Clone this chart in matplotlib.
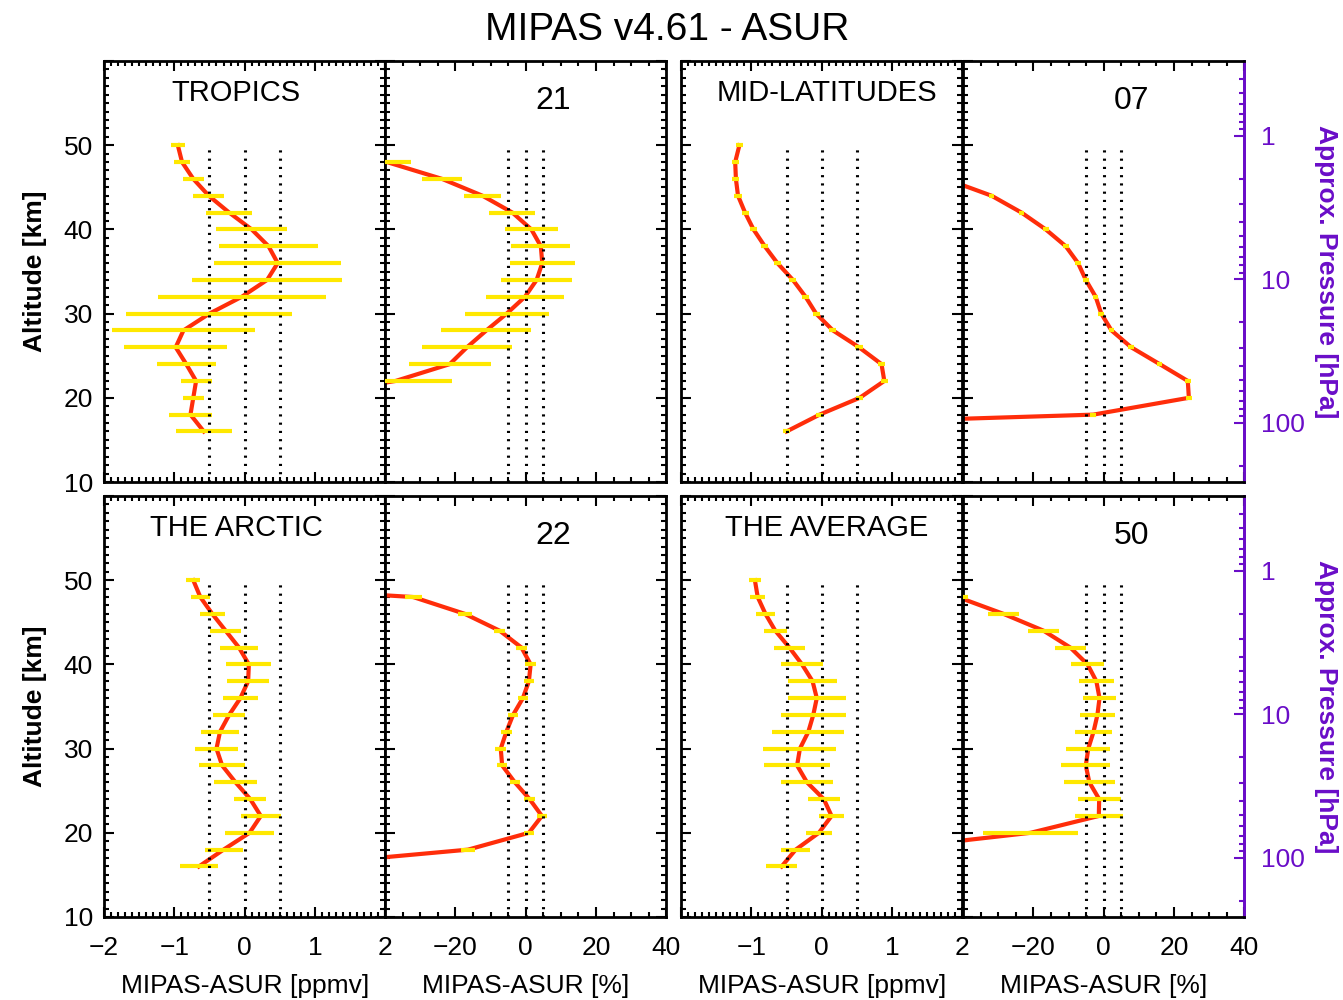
import numpy as np
import matplotlib
matplotlib.use('Agg')
from matplotlib import pyplot as plt
from matplotlib.ticker import MultipleLocator, FixedLocator, FuncFormatter

plt.rcParams['font.family'] = ['Liberation Sans', 'DejaVu Sans']

# altitude grid of the comparison [km]
alt = [16, 18, 20, 22, 24, 26, 28, 30, 32, 34, 36, 38, 40, 42, 44, 46, 48, 50]
nan = np.nan

# absolute differences MIPAS-ASUR [ppmv]
trop_ppmv = [-0.58, -0.77, -0.73, -0.69, -0.83, -0.98, -0.87, -0.50, -0.04, 0.32,
             0.47, 0.34, 0.10, -0.22, -0.51, -0.73, -0.89, -0.95]
trop_ppmv_err = [0.40, 0.30, 0.15, 0.22, 0.42, 0.73, 1.02, 1.18, 1.19, 1.07,
                 0.90, 0.70, 0.50, 0.33, 0.22, 0.15, 0.12, 0.10]
midlat_ppmv = [-0.50, -0.03, 0.54, 0.89, 0.85, 0.53, 0.16, -0.08, -0.23, -0.41,
               -0.63, -0.81, -0.97, -1.09, -1.19, -1.22, -1.23, -1.17]
midlat_ppmv_err = [0.05] * 18
arctic_ppmv = [-0.65, -0.30, 0.07, 0.23, 0.08, -0.13, -0.32, -0.40, -0.35, -0.22,
               -0.06, 0.05, 0.06, -0.08, -0.27, -0.46, -0.63, -0.73]
arctic_ppmv_err = [0.27, 0.27, 0.35, 0.28, 0.23, 0.30, 0.33, 0.31, 0.265, 0.225,
                   0.25, 0.30, 0.32, 0.27, 0.225, 0.18, 0.135, 0.10]
avg_ppmv = [-0.57, -0.37, -0.04, 0.14, 0.03, -0.21, -0.35, -0.31, -0.19, -0.12,
            -0.07, -0.13, -0.28, -0.46, -0.66, -0.80, -0.91, -0.95]
avg_ppmv_err = [0.22, 0.21, 0.19, 0.175, 0.23, 0.37, 0.47, 0.52, 0.51, 0.46,
                0.41, 0.35, 0.30, 0.22, 0.165, 0.135, 0.11, 0.08]

# relative differences MIPAS-ASUR [%]
trop_pct = [nan, nan, -67, -37, -21.6, -16.7, -11.2, -5.4, -0.2, 3.1,
            4.7, 4.3, 1.6, -3.8, -12.3, -23.8, -39.5, -60]
trop_pct_err = [nan, nan, nan, 16, 11.6, 12.7, 12.8, 12.0, 11.0, 10.1,
                9.3, 8.4, 7.6, 6.5, 5.3, 5.6, 7, nan]
midlat_pct = [-155, -3.0, 24.2, 23.9, 15.9, 7.8, 2.2, -0.7, -2.3, -5.1,
              -7.3, -10.8, -16.5, -23.4, -31.9, -45, nan, nan]
midlat_pct_err = [nan, 0.8, 0.8, 0.8, 0.8, 0.8, 0.8, 0.8, 0.8, 0.8,
                  0.8, 0.8, 0.8, 0.8, 0.8, nan, nan, nan]
arctic_pct = [-69, -16.4, 0.9, 4.6, 1.1, -3.1, -6.7, -7.1, -5.5, -3.6,
              -0.8, 0.9, 1.4, -1.2, -7.4, -17.3, -32.0, -110]
arctic_pct_err = [nan, 2, 1.5, 1.5, 1.5, 1.5, 1.5, 1.5, 1.5, 1.5,
                  1.5, 1.5, 1.5, 1.5, 1.5, 2, 2.4, nan]
avg_pct = [nan, -63, -20.8, -1.4, -1.3, -4.1, -5.1, -4.4, -2.9, -1.8,
           -1.2, -2.1, -4.6, -9.5, -17.1, -28.5, -41.5, nan]
avg_pct_err = [nan, nan, 13.5, 6.9, 6.1, 7.2, 7.0, 6.3, 5.3, 4.9,
               4.6, 5.0, 4.7, 4.5, 4.35, 4.4, 3, nan]

region_names = ['TROPICS', 'MID-LATITUDES', 'THE ARCTIC', 'THE AVERAGE']
n_coinc = ['21', '07', '22', '50']
pressure_ticks = [1, 10, 100]

RED = '#ff2d0a'
YEL = '#ffe800'
PURPLE = '#6a0dc8'
FS = 19
LW = 3.0
DOTS = (0, (0.7, 2.0))

def alt2p(z):
    return 1000.0 * np.exp(-np.asarray(z, dtype=float) / 7.4)

def p2alt(p):
    return -7.4 * np.log(np.asarray(p, dtype=float) / 1000.0)

fig = plt.figure(figsize=(13.43, 10), dpi=100)

lefts = [0.0774, 0.2867, 0.5071, 0.7171]
bottoms = [0.518, 0.083]
w, h = 0.2095, 0.421

panels = [
    (0, 0, trop_ppmv, trop_ppmv_err, trop_pct, trop_pct_err),
    (0, 2, midlat_ppmv, midlat_ppmv_err, midlat_pct, midlat_pct_err),
    (1, 0, arctic_ppmv, arctic_ppmv_err, arctic_pct, arctic_pct_err),
    (1, 2, avg_ppmv, avg_ppmv_err, avg_pct, avg_pct_err),
]

def style(ax, major, minor):
    ax.set_ylim(10, 60)
    ax.xaxis.set_major_locator(MultipleLocator(major))
    ax.xaxis.set_minor_locator(MultipleLocator(minor))
    ax.yaxis.set_major_locator(MultipleLocator(10))
    ax.yaxis.set_minor_locator(MultipleLocator(1))
    ax.tick_params(which='both', direction='in', top=True, right=True,
                   labelsize=FS, width=1.5)
    ax.tick_params(which='major', length=7)
    ax.tick_params(which='minor', length=3.5)
    ax.tick_params(axis='x', pad=14)
    ax.tick_params(axis='y', pad=8)
    for s in ax.spines.values():
        s.set_linewidth(2)

for k, (row, col, vppmv, eppmv, vpct, epct) in enumerate(panels):
    # absolute panel
    ax1 = fig.add_axes([lefts[col], bottoms[row], w, h])
    ax1.plot(vppmv, alt, color=RED, lw=LW, zorder=2)
    ax1.errorbar(vppmv, alt, xerr=eppmv, fmt='none', ecolor=YEL, elinewidth=LW,
                 capsize=0, zorder=3)
    for xv in [-0.5, 0, 0.5]:
        ax1.plot([xv, xv], [10, 50], color='k', ls=DOTS, lw=2.2, zorder=4)
    ax1.set_xlim(-2, 2)
    style(ax1, 1, 0.1)
    ax1.text(0.47 if col == 0 else 0.518, 0.925, region_names[k], transform=ax1.transAxes,
             ha='center', va='center', fontsize=21)

    # relative panel
    ax2 = fig.add_axes([lefts[col + 1], bottoms[row], w, h])
    ax2.plot(vpct, alt, color=RED, lw=LW, zorder=2)
    ax2.errorbar(vpct, alt, xerr=epct, fmt='none', ecolor=YEL, elinewidth=LW,
                 capsize=0, zorder=3)
    for xv in [-5, 0, 5]:
        ax2.plot([xv, xv], [10, 50], color='k', ls=DOTS, lw=2.2, zorder=4)
    ax2.set_xlim(-40, 40)
    style(ax2, 20, 5)
    ax2.text(0.597, 0.905, n_coinc[k], transform=ax2.transAxes,
             ha='center', va='center', fontsize=23)
    ax2.tick_params(labelleft=False)

    if col == 0:
        ax1.set_ylabel('Altitude [km]', fontsize=FS, fontweight='bold', labelpad=12)
    else:
        ax1.tick_params(labelleft=False)
        ax2.spines['right'].set_color(PURPLE)
        ax2.tick_params(right=False, which='both')
        sec = ax2.secondary_yaxis('right', functions=(alt2p, p2alt))
        sec.yaxis.set_major_locator(FixedLocator(pressure_ticks))
        minors = [m * d for d in [0.1, 1, 10, 100] for m in range(2, 10)]
        sec.yaxis.set_minor_locator(FixedLocator(minors))
        sec.yaxis.set_major_formatter(FuncFormatter(lambda v, p: '%g' % v))
        sec.yaxis.set_minor_formatter(FuncFormatter(lambda v, p: ''))
        sec.tick_params(which='both', direction='in', colors=PURPLE, labelsize=FS, width=1.5)
        sec.tick_params(which='major', length=7, pad=12)
        sec.tick_params(which='minor', length=3.5)
        sec.spines['right'].set_color(PURPLE)
        sec.spines['right'].set_linewidth(2)
        sec.set_ylabel('Approx. Pressure [hPa]', color=PURPLE, fontsize=FS,
                       fontweight='bold', rotation=270, labelpad=24)

    if row == 0:
        ax1.tick_params(labelbottom=False)
        ax2.tick_params(labelbottom=False)
    else:
        ax1.set_xlabel('MIPAS-ASUR [ppmv]', fontsize=FS, labelpad=10)
        ax2.set_xlabel('MIPAS-ASUR [%]', fontsize=FS, labelpad=10)
        if col == 2:
            ax1.xaxis.set_major_formatter(
                FuncFormatter(lambda v, p: '' if v <= -2 else ('%d' % v).replace('-', '\u2212')))
        ax2.xaxis.set_major_formatter(
            FuncFormatter(lambda v, p: '' if v <= -40 else ('%d' % v).replace('-', '\u2212')))
    ax1.yaxis.set_major_formatter(FuncFormatter(lambda v, p: '' if v >= 60 else '%d' % v))

fig.text(0.497, 0.97, 'MIPAS v4.61 - ASUR', ha='center', va='center', fontsize=28)

plt.savefig('out.png', dpi=100)
